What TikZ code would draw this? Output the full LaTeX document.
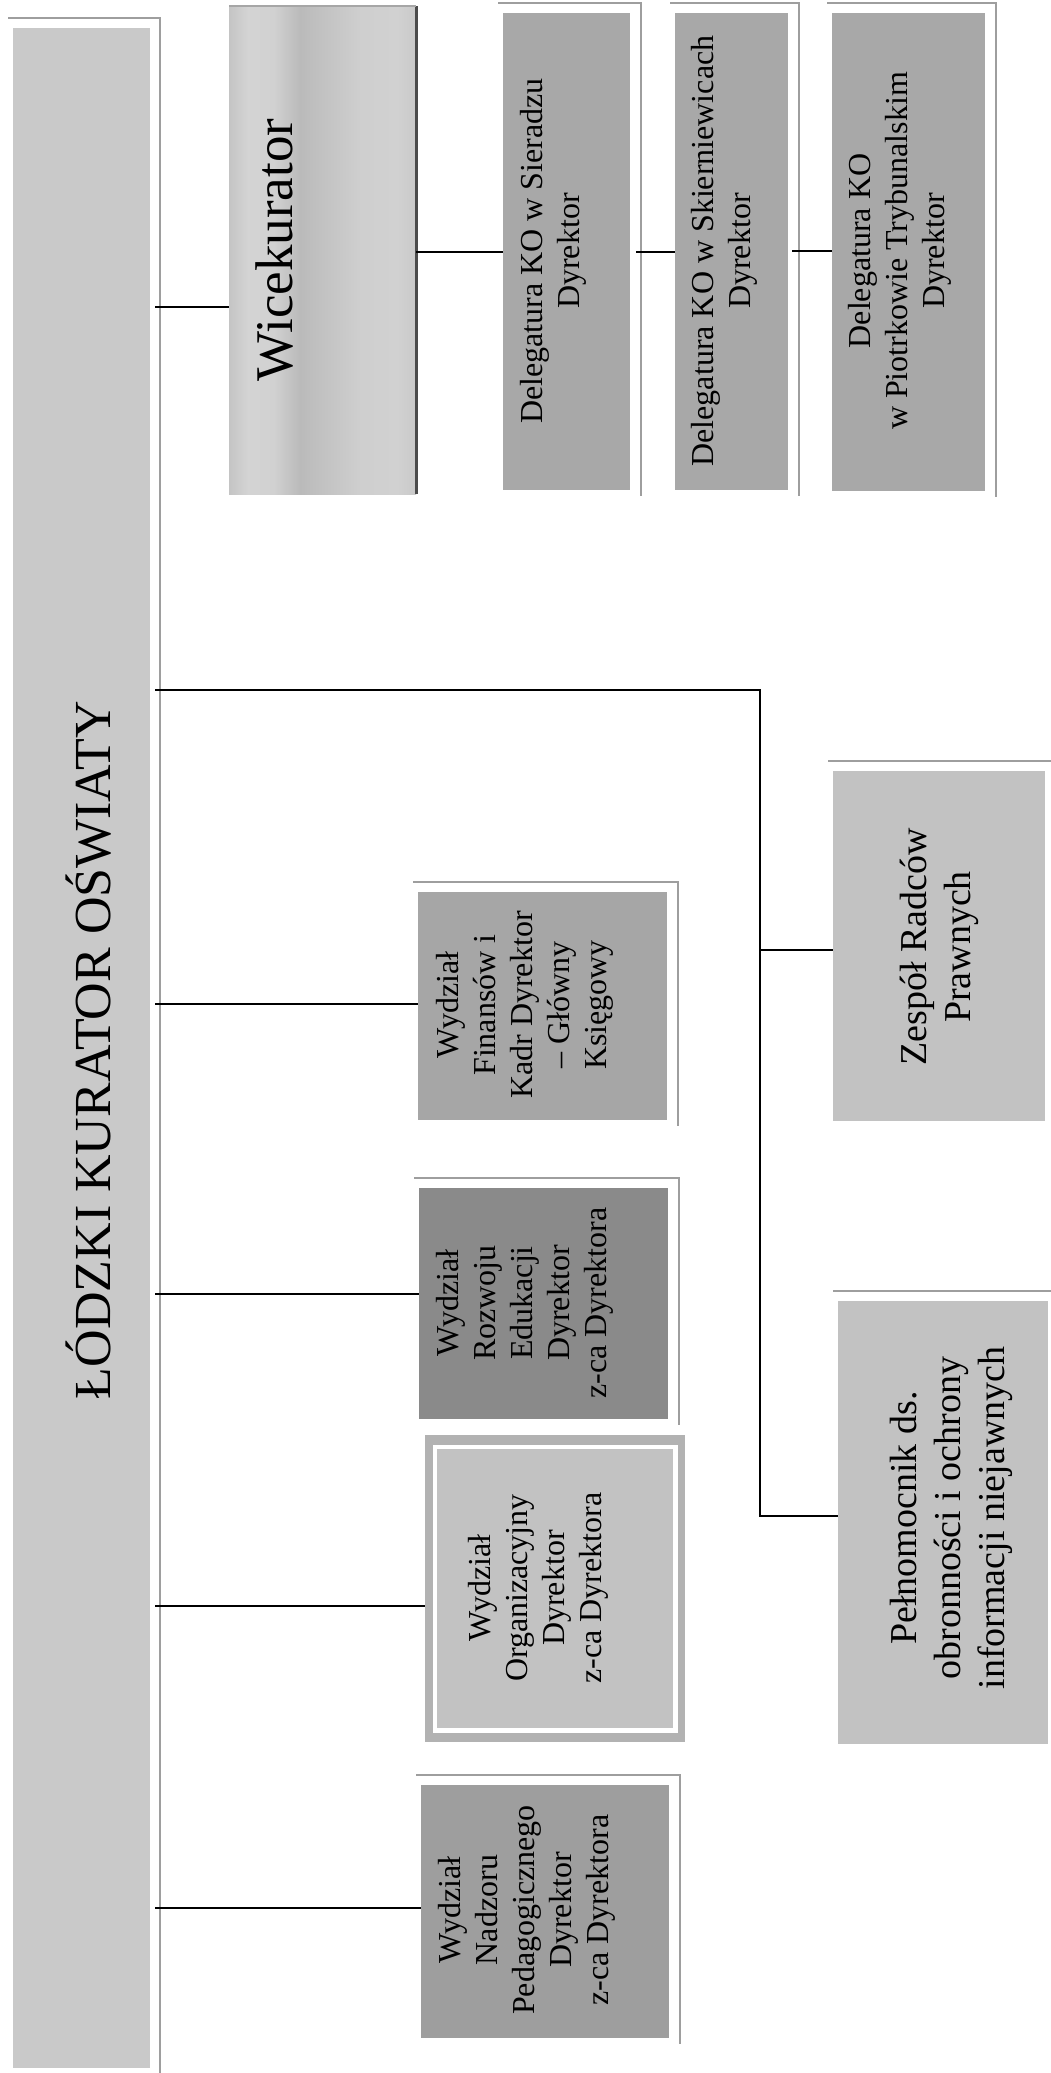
\documentclass[tikz,border=0pt]{standalone}
\usepackage{fontspec}
\setmainfont{Liberation Serif}
\usetikzlibrary{fit}
\newcommand{\fsz}[2]{\fontsize{#1}{#2}\selectfont}
\definecolor{kurgray}{gray}{0.79}
\definecolor{delgray}{gray}{0.66}
\definecolor{fingray}{gray}{0.65}
\definecolor{rozgray}{gray}{0.54}
\definecolor{orgout}{gray}{0.70}
\definecolor{orgin}{gray}{0.76}
\definecolor{nadgray}{gray}{0.62}
\definecolor{zesgray}{gray}{0.76}
\definecolor{shadowgray}{gray}{0.62}
\definecolor{wA}{gray}{0.77}
\definecolor{wB}{gray}{0.83}
\definecolor{wC}{gray}{0.82}
\definecolor{wD}{gray}{0.73}
\definecolor{wE}{gray}{0.76}
\definecolor{wF}{gray}{0.81}
\definecolor{wG}{gray}{0.82}
\definecolor{wH}{gray}{0.79}
\pgfdeclarehorizontalshading{wiceshade}{100bp}{color(0bp)=(wA); color(25bp)=(wA); color(30bp)=(wB); color(37bp)=(wC); color(44bp)=(wD); color(50bp)=(wE); color(60bp)=(wF); color(70bp)=(wG); color(75bp)=(wH); color(100bp)=(wH)}
\newcommand{\boxshadow}[1]{\draw[shad] ([xshift=-5pt,yshift=10pt]#1.north west) -| ([xshift=11pt,yshift=-6pt]#1.south east);}
\begin{document}
\begin{tikzpicture}[x=1pt,y=-1pt,
  shad/.style={draw=shadowgray, line width=2pt},
  conn/.style={draw=black, line width=2.4pt},
  boxn/.style={inner sep=0pt, outer sep=0pt},
  vtxt/.style={rotate=90, align=center, inner sep=0pt, text=black},
  small/.style={vtxt, font=\fsz{32}{37}, anchor=north},
  mid/.style={vtxt, font=\fsz{38}{44}, anchor=north},
  big/.style={vtxt, anchor=base}]
\useasboundingbox (0,0) rectangle (1051,2073);
\clip (0,0) rectangle (1051,2073);
\fill[white] (0,0) rectangle (1051,2073);
% boxes
\node[boxn, fill=kurgray, fit={(13,28) (150,2068)}] (kur) {};
\node[boxn, shade, shading=wiceshade, fit={(229,6) (416,494)}] (wice) {};
\node[boxn, fill=delgray, fit={(503,13) (630,490)}] (sier) {};
\node[boxn, fill=delgray, fit={(675,13) (788,490)}] (skier) {};
\node[boxn, fill=delgray, fit={(832,13) (985,491)}] (piot) {};
\node[boxn, fill=fingray, fit={(418,892) (667,1120)}] (fin) {};
\node[boxn, fill=rozgray, fit={(419,1188) (668,1419)}] (roz) {};
\node[boxn, fill=orgout, fit={(425,1435) (685,1742)}] (org) {};
\node[boxn, fill=white, fit={(433,1445) (678,1733)}] (orgw) {};
\node[boxn, fill=orgin, fit={(437,1449) (673,1728)}] (orgi) {};
\node[boxn, fill=nadgray, fit={(421,1785) (669,2038)}] (nad) {};
\node[boxn, fill=zesgray, fit={(833,771) (1045,1121)}] (zes) {};
\node[boxn, fill=zesgray, fit={(838,1301) (1048,1744)}] (pel) {};
% Wicekurator edges
\draw[black!70, line width=3pt] (wice.north east) -- (wice.south east);
\draw[black!35, line width=1.5pt] (wice.north west) -- (wice.north east);
% shadow frames
\draw[shad] ([xshift=-5pt,yshift=10pt]kur.north west) -| ([xshift=10pt,yshift=-20pt]kur.south east);
\boxshadow{sier}
\boxshadow{skier}
\boxshadow{piot}
\boxshadow{fin}
\boxshadow{roz}
\boxshadow{nad}
\boxshadow{zes}
\boxshadow{pel}
% connectors
\draw[conn] ([xshift=5pt]kur.east |- 0,307) -- (wice.west |- 0,307);
\draw[conn] (wice.east |- 0,252) -- (sier.west |- 0,252);
\draw[conn] ([xshift=6pt]sier.east |- 0,252) -- (skier.west |- 0,252);
\draw[conn] ([xshift=4pt]skier.east |- 0,251) -- (piot.west |- 0,251);
\draw[conn] ([xshift=5pt]kur.east |- 0,1004) -- (fin.west |- 0,1004);
\draw[conn] ([xshift=5pt]kur.east |- 0,1294) -- (roz.west |- 0,1294);
\draw[conn] ([xshift=5pt]kur.east |- 0,1606) -- (org.west |- 0,1606);
\draw[conn] ([xshift=5pt]kur.east |- 0,1908) -- (nad.west |- 0,1908);
\coordinate (bus) at (760,690);
\draw[conn] ([xshift=5pt]kur.east |- bus) -- (bus) -- (bus |- 0,1516) -- (pel.west |- 0,1516);
\draw[conn] (bus |- 0,950) -- (zes.west |- 0,950);
% texts
\node[big, font=\fsz{52}{60}] (kur-t) at (110,1050) {ŁÓDZKI KURATOR OŚWIATY};
\node[big, font=\fsz{53}{60}] (wice-t) at (292,250) {Wicekurator};
\node[small] (sier-t) at (520,251) {Delegatura KO w Sieradzu\\Dyrektor};
\node[small] (skier-t) at (691,251) {Delegatura KO w Skierniewicach\\Dyrektor};
\node[small] (piot-t) at (848,251) {Delegatura KO\\w Piotrkowie Trybunalskim\\Dyrektor};
\node[small] (fin-t) at (436,1005) {Wydział\\Finansów i\\Kadr Dyrektor\\– Główny\\Księgowy};
\node[small] (roz-t) at (436,1303) {Wydział\\Rozwoju\\Edukacji\\Dyrektor\\z-ca Dyrektora};
\node[small] (org-t) at (468,1588) {Wydział\\Organizacyjny\\Dyrektor\\z-ca Dyrektora};
\node[small] (nad-t) at (438,1910) {Wydział\\Nadzoru\\Pedagogicznego\\Dyrektor\\z-ca Dyrektora};
\node[mid] (zes-t) at (900,947) {Zespół Radców\\Prawnych};
\node[mid] (pel-t) at (890,1518) {Pełnomocnik ds.\\obronności i ochrony\\informacji niejawnych};
\end{tikzpicture}
\end{document}
